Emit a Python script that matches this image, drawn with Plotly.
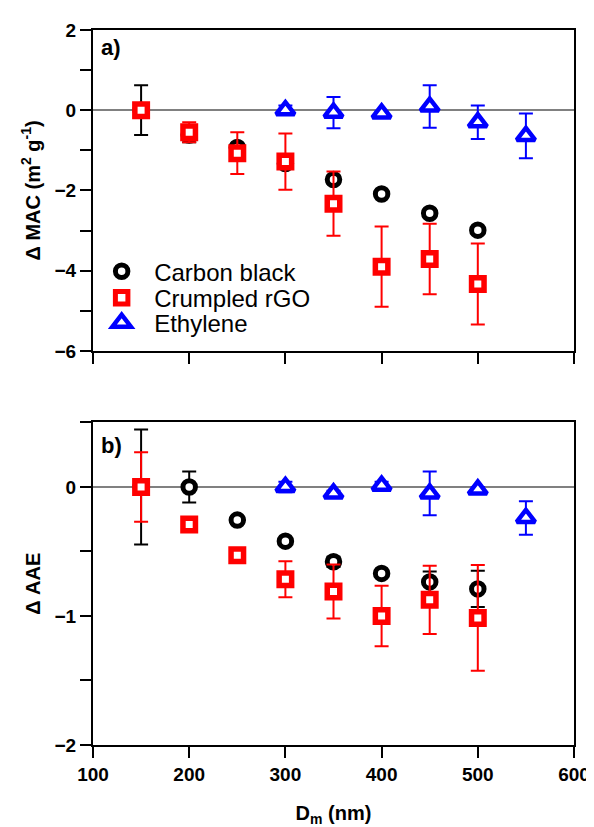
import plotly.graph_objects as go

# ---- data ----
d_cb = [150, 200, 250, 300, 350, 400, 450, 500]
d_rgo = [150, 200, 250, 300, 350, 400, 450, 500]
d_eth = [300, 350, 400, 450, 500, 550]

mac_cb = [0.0, -0.62, -0.93, -1.33, -1.73, -2.09, -2.57, -2.99]
mac_cb_err = [0.62, 0.18, 0.1, 0.1, 0.1, 0.08, 0.1, 0.08]
mac_rgo = [0.0, -0.55, -1.07, -1.28, -2.33, -3.9, -3.71, -4.33]
mac_rgo_err = [0.05, 0.25, 0.52, 0.7, 0.8, 1.0, 0.88, 1.01]
mac_eth = [0.0, -0.06, -0.08, 0.09, -0.3, -0.64]
mac_eth_err = [0.12, 0.39, 0.05, 0.53, 0.42, 0.56]

aae_cb = [0.0, 0.0, -0.257, -0.42, -0.58, -0.67, -0.736, -0.79]
aae_cb_err = [0.445, 0.12, 0.03, 0.02, 0.04, 0.02, 0.08, 0.14]
aae_rgo = [0.0, -0.29, -0.53, -0.715, -0.81, -1.0, -0.875, -1.015]
aae_rgo_err = [0.27, 0.03, 0.04, 0.14, 0.21, 0.235, 0.265, 0.41]
aae_eth = [0.0, -0.05, 0.01, -0.05, -0.02, -0.24]
aae_eth_err = [0.04, 0.02, 0.03, 0.17, 0.02, 0.13]

names = ["Carbon black", "Crumpled rGO", "Ethylene"]
colors = ["black", "#ff0000", "#0000ff"]
symbols = ["circle", "square", "triangle-up"]
sizes = [12.5, 12.5, 16]
lws = [5, 5.5, 4.5]
legend_ids = ["legend", "legend2", "legend3"]
legend_y = [0.662, 0.625, 0.590]

FONT = "Liberation Sans, Arial, sans-serif"

fig = go.Figure()

top = [(d_cb, mac_cb, mac_cb_err), (d_rgo, mac_rgo, mac_rgo_err), (d_eth, mac_eth, mac_eth_err)]
bot = [(d_cb, aae_cb, aae_cb_err), (d_rgo, aae_rgo, aae_rgo_err), (d_eth, aae_eth, aae_eth_err)]

for i, (x, y, e) in enumerate(top):
    fig.add_trace(go.Scatter(
        x=x, y=y, mode="markers", name=names[i], xaxis="x", yaxis="y",
        legend=legend_ids[i],
        marker=dict(symbol=symbols[i], size=sizes[i], color="white",
                    line=dict(width=lws[i], color=colors[i])),
        error_y=dict(type="data", array=e, visible=True, color=colors[i],
                     thickness=2, width=7),
    ))
for i, (x, y, e) in enumerate(bot):
    fig.add_trace(go.Scatter(
        x=x, y=y, mode="markers", name=names[i], xaxis="x2", yaxis="y2",
        showlegend=False,
        marker=dict(symbol=symbols[i], size=sizes[i], color="white",
                    line=dict(width=lws[i], color=colors[i])),
        error_y=dict(type="data", array=e, visible=True, color=colors[i],
                     thickness=2, width=7),
    ))

tickfont = dict(family=FONT, size=19, color="black", weight="bold")
titlefont = dict(family=FONT, size=20, color="black", weight="bold")

common_x = dict(range=[100, 600], tickmode="array", tickvals=[100, 200, 300, 400, 500, 600],
                ticks="outside", ticklen=11, tickwidth=2, tickcolor="black",
                showline=True, linewidth=2, linecolor="black", mirror=True,
                showgrid=False, zeroline=False, tickfont=tickfont,
                ticklabeloverflow="allow")
common_y = dict(ticks="outside", ticklen=11, tickwidth=2, tickcolor="black",
                showline=True, linewidth=2, linecolor="black", mirror=True,
                showgrid=False, zeroline=True, zerolinecolor="#808080", zerolinewidth=2,
                tickfont=tickfont)

legend_common = dict(x=-0.008, xanchor="left", yanchor="middle", bgcolor="rgba(0,0,0,0)",
                     font=dict(family=FONT, size=24, color="black"), itemwidth=55)

layout_legends = {}
for lid, ly in zip(legend_ids, legend_y):
    layout_legends[lid] = dict(legend_common, y=ly)

fig.update_layout(
    width=594, height=827,
    margin=dict(l=85, r=26, t=15, b=90),
    paper_bgcolor="white", plot_bgcolor="white",
    font=dict(family=FONT, color="black"),
    xaxis=dict(common_x, anchor="y", domain=[0, 1], showticklabels=False),
    yaxis=dict(common_y, anchor="x", domain=[0.5512, 1.0], range=[-6, 2], dtick=2,
               minor=dict(dtick=1, ticks="outside", ticklen=11, tickwidth=2, tickcolor="black"),
               title=dict(text="Δ MAC (m<sup>2</sup> g<sup>-1</sup>)", font=titlefont, standoff=9)),
    xaxis2=dict(common_x, anchor="y2", domain=[0, 1],
                title=dict(text="D<sub>m</sub> (nm)", font=titlefont, standoff=22)),
    yaxis2=dict(common_y, anchor="x2", domain=[0.0, 0.4511], range=[-2, 0.5], dtick=1,
                minor=dict(dtick=0.5, ticks="outside", ticklen=11, tickwidth=2, tickcolor="black"),
                title=dict(text="Δ AAE", font=titlefont, standoff=9)),
    showlegend=True,
    **layout_legends,
)

fig.add_annotation(text="<b>a)</b>", xref="x domain", yref="y domain", x=0.012, y=0.945,
                   xanchor="left", yanchor="middle", showarrow=False,
                   font=dict(family=FONT, size=22, color="black"))
fig.add_annotation(text="<b>b)</b>", xref="x2 domain", yref="y2 domain", x=0.012, y=0.93,
                   xanchor="left", yanchor="middle", showarrow=False,
                   font=dict(family=FONT, size=22, color="black"))

fig.write_html("out.html")
